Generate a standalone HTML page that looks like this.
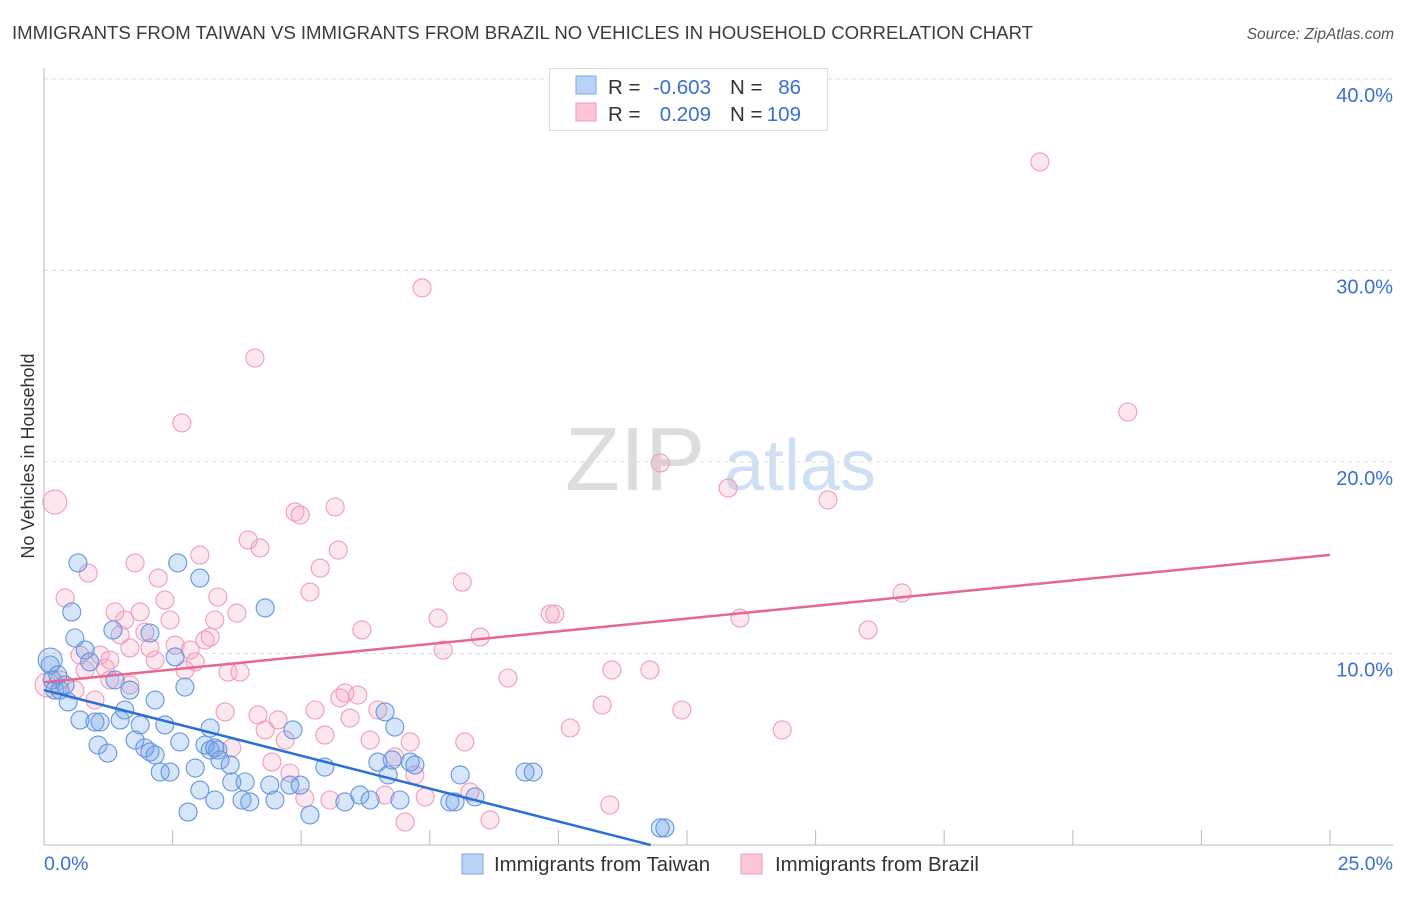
<!DOCTYPE html>
<html><head><meta charset="utf-8"><style>
body{margin:0;background:#fff;font-family:"Liberation Sans",sans-serif;}
svg text{font-family:"Liberation Sans",sans-serif;}
</style></head><body>
<svg id="chart" width="1406" height="892" xmlns="http://www.w3.org/2000/svg">
<text x="12" y="39" font-size="18.6" fill="#3c3c3c">IMMIGRANTS FROM TAIWAN VS IMMIGRANTS FROM BRAZIL NO VEHICLES IN HOUSEHOLD CORRELATION CHART</text>
<text x="1394" y="39" font-size="15.5" font-style="italic" fill="#555" text-anchor="end">Source: ZipAtlas.com</text>
<text transform="translate(34,456) rotate(-90)" font-size="18" fill="#333" text-anchor="middle">No Vehicles in Household</text>
<g><text x="635" y="490" font-size="90" fill="#ddd" font-family="Liberation Serif" text-anchor="middle">ZIP</text><text x="800" y="490" font-size="72" fill="#cfe0f4" text-anchor="middle">atlas</text></g>
<g id="grid"></g><g id="axes"></g><g id="pts"></g><g id="trends"></g>
<g>
<rect x="549.5" y="68.5" width="278" height="62" fill="#fff" stroke="#ddd"/>
<rect x="576" y="76" width="20" height="18" fill="#b8d3f5" stroke="#7aa7e6"/>
<rect x="576" y="103" width="20" height="18" fill="#fbc7d6" stroke="#f09ab5"/>
<text x="608" y="94" font-size="20.5" fill="#333">R =</text>
<text x="711" y="94" font-size="20.5" fill="#3b6fd4" text-anchor="end">-0.603</text>
<text x="730" y="94" font-size="20.5" fill="#333">N =</text>
<text x="801" y="94" font-size="20.5" fill="#3b6fd4" text-anchor="end">86</text>
<text x="608" y="121" font-size="20.5" fill="#333">R =</text>
<text x="711" y="121" font-size="20.5" fill="#3b6fd4" text-anchor="end">0.209</text>
<text x="730" y="121" font-size="20.5" fill="#333">N =</text>
<text x="801" y="121" font-size="20.5" fill="#3b6fd4" text-anchor="end">109</text>
</g>
<g>
<rect x="462" y="854" width="21" height="20" fill="#b8d3f5" stroke="#7aa7e6"/>
<text x="494" y="871" font-size="20.4" fill="#333">Immigrants from Taiwan</text>
<rect x="741" y="854" width="21" height="20" fill="#fbc7d6" stroke="#f09ab5"/>
<text x="775" y="871" font-size="20.4" fill="#333">Immigrants from Brazil</text>
</g>
</svg>
<script>
const yTicks=[10,20,30,40];
const xTickLabels=["0.0%","25.0%"];
const taiwanX=[0.12,0.16,0.21,0.31,0.41,0.66,0.54,0.60,0.80,0.89,0.47,0.70,0.99,1.09,1.05,1.24,1.38,1.34,1.48,1.57,1.67,1.77,1.87,1.96,2.06,2.16,2.06,2.16,2.26,2.35,2.45,2.55,2.64,2.74,2.60,3.03,2.94,3.03,3.13,3.23,3.23,3.32,2.80,3.38,3.42,3.62,3.65,3.32,3.91,3.85,4.00,4.30,4.39,4.49,4.78,4.84,4.98,5.17,5.46,5.85,6.14,6.34,6.49,6.63,6.69,6.77,6.82,6.92,7.12,7.21,7.89,7.99,8.09,8.38,9.35,9.51,11.98,12.07,0.12,0.27];
const taiwanY=[9.40,8.62,8.09,8.09,8.36,14.73,12.17,10.81,10.18,9.56,7.47,6.53,6.42,6.42,5.22,4.80,8.62,11.23,6.53,7.05,8.09,5.48,6.27,5.07,4.86,4.70,11.07,7.57,3.81,6.27,3.81,9.82,5.38,8.25,14.73,13.94,4.02,2.87,5.22,4.96,6.11,5.07,1.72,4.96,4.44,4.18,3.29,2.35,3.29,2.35,2.25,12.38,3.13,2.35,3.13,6.01,3.13,1.57,4.07,2.25,2.61,2.35,4.33,6.95,3.66,4.44,6.16,2.35,4.33,4.18,2.25,2.25,3.66,2.51,3.81,3.81,0.89,0.89,9.66,8.88];
const brazilX=[0.21,0.06,0.41,0.86,1.09,1.19,1.28,1.48,1.38,1.57,1.67,1.77,1.87,1.96,2.06,2.16,2.22,2.35,2.45,2.55,2.68,2.74,2.84,2.94,3.03,3.13,3.23,3.32,3.38,3.52,3.58,3.65,3.75,3.81,3.97,4.10,4.16,4.20,4.30,4.43,4.55,4.69,4.78,4.88,4.98,5.07,5.17,5.27,5.37,5.46,5.56,5.66,5.72,5.75,5.85,5.95,6.10,6.18,6.34,6.49,6.63,6.82,7.02,7.12,7.21,7.35,7.41,7.66,7.76,8.13,8.18,8.28,8.48,8.67,9.02,9.84,9.93,10.23,10.85,11.00,11.04,11.78,11.98,12.40,13.30,13.53,14.35,15.24,16.02,16.68,19.36,21.07,0.31,0.60,0.80,0.99,1.28,1.67,0.70];
const brazilY=[17.91,8.36,12.90,14.20,9.92,9.24,8.62,10.97,12.17,11.75,10.29,14.73,12.17,11.12,10.29,9.66,13.94,12.79,11.75,10.44,22.04,9.14,10.18,9.56,15.14,10.70,10.86,11.75,12.95,6.95,9.03,5.07,12.11,9.03,15.93,25.43,6.79,15.51,6.01,4.33,6.53,5.48,3.76,17.39,17.23,2.45,13.21,7.05,14.46,5.74,2.35,17.65,15.40,7.68,7.94,6.63,7.83,11.23,5.48,7.05,2.61,4.60,1.20,5.38,3.66,29.09,2.51,11.85,10.18,13.73,5.38,2.77,10.86,1.31,8.72,12.06,12.06,6.11,7.31,2.09,9.14,9.14,19.95,7.05,18.64,11.85,6.01,18.02,11.23,13.16,35.67,22.61,8.62,8.09,9.14,7.57,9.66,8.36,9.92];
const taiwanTrend=[8.09,-0.686];
const brazilTrend=[8.5,0.266];
const NS="http://www.w3.org/2000/svg";
const X=v=>44+v*51.44, Y=v=>845-v*19.15;
function mk(tag,attrs,parent){const e=document.createElementNS(NS,tag);for(const k in attrs)e.setAttribute(k,attrs[k]);parent.appendChild(e);return e;}
const grid=document.getElementById('grid'),axes=document.getElementById('axes'),pts=document.getElementById('pts'),tr=document.getElementById('trends');
yTicks.forEach(t=>{
 const l=mk('line',{x1:44,x2:1393,y1:Y(t),y2:Y(t),stroke:'#ddd','stroke-dasharray':'4,4'},grid);
 
 
 const tx=mk('text',{x:1393,y:Y(t)+23,'font-size':20,fill:'#3b6fd4','text-anchor':'end'},grid);
 tx.textContent=t.toFixed(1)+'%';
 
 
});
const ax=mk('line',{x1:44,x2:44,y1:68,y2:845,stroke:'#bbb'},axes);


const bx=mk('line',{x1:44,x2:1393,y1:845,y2:845,stroke:'#bbb'},axes);


for(let i=1;i<=10;i++){const t=mk('line',{x1:X(i*2.5),x2:X(i*2.5),y1:830,y2:845,stroke:'#bbb'},axes);
 
 }
[[0,44,'start'],[25,1393,'end']].forEach((d,i)=>{const t=mk('text',{x:d[1],y:870,'font-size':19.5,fill:'#3b6fd4','text-anchor':d[2]},axes);t.textContent=xTickLabels[i];
 
 });
function series(xs,ys,fill,stroke,name){xs.forEach((x,i)=>{const r=(i<2&&name==='brazil-point')?12:9;
 const c=mk('circle',{cx:X(x),cy:Y(ys[i]),r:(name==='taiwan-point'&&i===78)?12:r,fill:fill,stroke:stroke,'stroke-width':1.1},pts);
 
 });}
series(brazilX,brazilY,'rgba(245,160,190,0.25)','#ee9dba','brazil-point');
series(taiwanX,taiwanY,'rgba(110,160,230,0.28)','#6396e2','taiwan-point');
const tEnd=-taiwanTrend[0]/taiwanTrend[1];
const l1=mk('line',{x1:X(0),y1:Y(taiwanTrend[0]),x2:X(tEnd),y2:Y(0),stroke:'#2a6fd6','stroke-width':2.5},tr);


const l2=mk('line',{x1:X(0),y1:Y(brazilTrend[0]),x2:X(25),y2:Y(brazilTrend[0]+25*brazilTrend[1]),stroke:'#e8678f','stroke-width':2.5},tr);


</script>
</body></html>
